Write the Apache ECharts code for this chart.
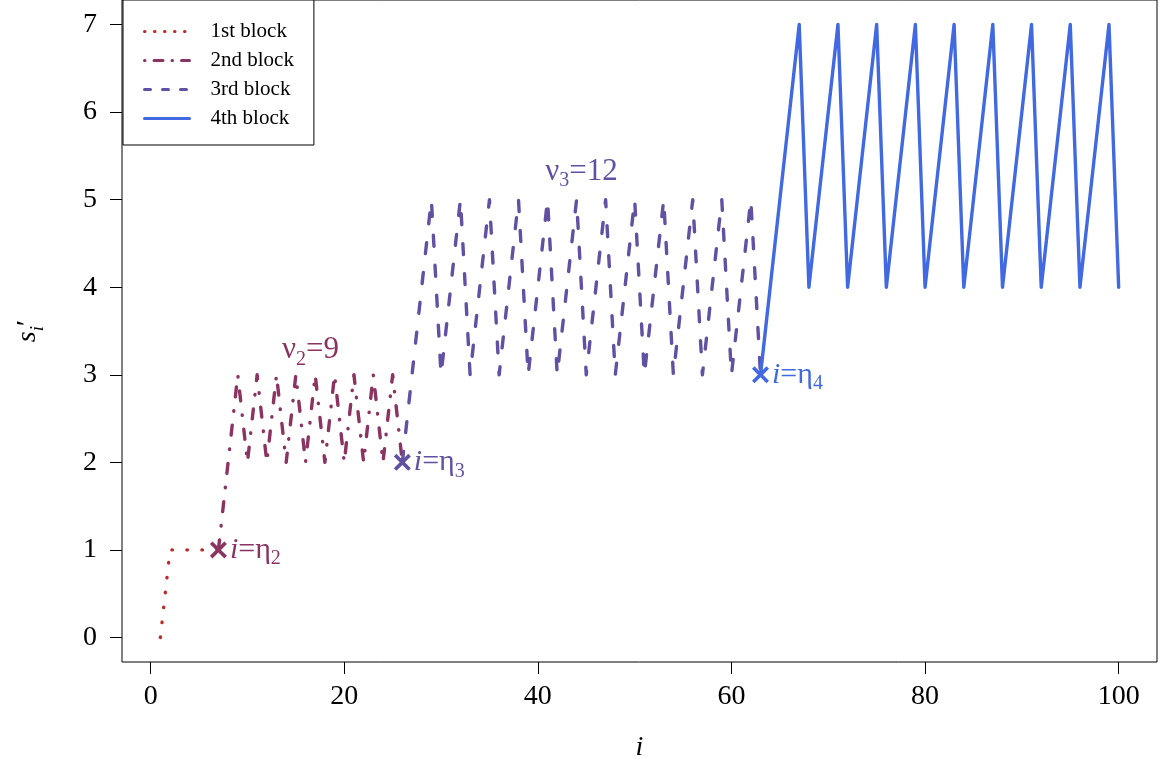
<!DOCTYPE html>
<html><head><meta charset="utf-8">
<script src="https://cdn.jsdelivr.net/npm/echarts@6/dist/echarts.min.js"></script>
<style>html,body{margin:0;padding:0;background:#fff}#c{width:1162px;height:762px}</style>
</head><body><div id="c"></div>
<script>
const FONT = 'Liberation Serif';
const seriesNames = ['1st block', '2nd block', '3rd block', '4th block'];
const block1X = [1, 2, 3, 4, 5, 6, 7];
const block1Y = [0, 1, 1, 1, 1, 1, 1];
const block2X = [7, 8, 9, 10, 11, 12, 13, 14, 15, 16, 17, 18, 19, 20, 21, 22, 23, 24, 25, 26];
const block2Y = [1, 2, 3, 2, 3, 2, 3, 2, 3, 2, 3, 2, 3, 2, 3, 2, 3, 2, 3, 2];
const block3X = [26, 27, 28, 29, 30, 31, 32, 33, 34, 35, 36, 37, 38, 39, 40, 41, 42, 43, 44, 45,
  46, 47, 48, 49, 50, 51, 52, 53, 54, 55, 56, 57, 58, 59, 60, 61, 62, 63];
const block3Y = [2, 3, 4, 5, 3, 4, 5, 3, 4, 5, 3, 4, 5, 3, 4, 5, 3, 4, 5, 3,
  4, 5, 3, 4, 5, 3, 4, 5, 3, 4, 5, 3, 4, 5, 3, 4, 5, 3];
const block4X = [63, 64, 65, 66, 67, 68, 69, 70, 71, 72, 73, 74, 75, 76, 77, 78, 79, 80, 81, 82,
  83, 84, 85, 86, 87, 88, 89, 90, 91, 92, 93, 94, 95, 96, 97, 98, 99, 100];
const block4Y = [3, 4, 5, 6, 7, 4, 5, 6, 7, 4, 5, 6, 7, 4, 5, 6, 7, 4, 5, 6,
  7, 4, 5, 6, 7, 4, 5, 6, 7, 4, 5, 6, 7, 4, 5, 6, 7, 4];
const etaX = [7, 26, 63];
const etaY = [1, 2, 3];
const etaSub = ['2', '3', '4'];
const nuX = [16.5, 44.5];
const nuY = [3.28, 5.32];
const nuSub = ['2', '3'];
const nuVal = ['9', '12'];
const xTicks = [0, 20, 40, 60, 80, 100];
const yTicks = [0, 1, 2, 3, 4, 5, 6, 7];

const colors = ['#bf2a2a', '#8b3462', '#6251a2', '#4169e1'];
const dashes = [[0.5, 14.5], [10, 14, 0.5, 14], [11, 19], 'solid'];
const legendDashes = [[0.5, 9.5], [0.5, 9, 9, 9], [6, 12], 'solid'];

const xs = [block1X, block2X, block3X, block4X];
const ys = [block1Y, block2Y, block3Y, block4Y];

const lineSeries = seriesNames.map((name, k) => ({
  type: 'line', name,
  data: xs[k].map((x, i) => [x, ys[k][i]]),
  showSymbol: false, symbol: 'none',
  lineStyle: { color: colors[k], width: 3.4, type: dashes[k], cap: 'round', join: 'round', opacity: 1 },
  itemStyle: { color: colors[k] },
  z: 2 + k, animation: false
}));

const XPATH = 'path://M0,1.5L1.5,0L5,3.5L8.5,0L10,1.5L6.5,5L10,8.5L8.5,10L5,6.5L1.5,10L0,8.5L3.5,5Z';
const subRich = (size) => ({
  it: { fontFamily: FONT, fontStyle: 'italic', fontSize: size, lineHeight: size, verticalAlign: 'top' },
  n: { fontFamily: FONT, fontSize: size, lineHeight: size, verticalAlign: 'top' },
  sub: { fontFamily: FONT, fontSize: Math.round(size * 0.66), lineHeight: Math.round(size * 0.66), padding: [Math.round(size * 0.48), 0, 0, 0], verticalAlign: 'top' }
});

const etaSeries = {
  type: 'scatter', name: 'eta', symbol: XPATH, symbolSize: 17, z: 10, animation: false,
  itemStyle: { opacity: 1 },
  data: etaX.map((x, i) => ({
    value: [x, etaY[i]],
    itemStyle: { color: colors[i + 1], opacity: 1 },
    label: { color: colors[i + 1], opacity: 1 },
    sub: etaSub[i]
  })),
  label: {
    show: true, position: 'right', distance: 3,
    formatter: p => '{it|i}{n|=η}{sub|' + p.data.sub + '}',
    rich: subRich(30)
  },
  emphasis: { disabled: true }
};

const nuSeries = {
  type: 'scatter', name: 'nu', symbolSize: 0, z: 10, animation: false, silent: true,
  itemStyle: { opacity: 1 },
  data: nuX.map((x, i) => ({
    value: [x, nuY[i]],
    label: { color: colors[i + 1], opacity: 1 },
    sub: nuSub[i], val: nuVal[i]
  })),
  label: {
    show: true, position: 'inside',
    formatter: p => '{n|ν}{sub|' + p.data.sub + '}{n|=' + p.data.val + '}',
    rich: subRich(31)
  }
};

const chart = echarts.init(document.getElementById('c'), null, { renderer: 'canvas' });
chart.setOption({
  animation: false,
  backgroundColor: '#fff',
  grid: { left: 122, right: 5, top: 0, bottom: 100, show: true, borderColor: '#000', borderWidth: 1, backgroundColor: 'transparent', outerBoundsMode: 'none', containLabel: false },
  xAxis: {
    type: 'value', min: -2.96, max: 103.96,
    axisLine: { show: false, onZero: false },
    axisTick: { show: true, inside: false, length: 12, customValues: xTicks, lineStyle: { color: '#000', width: 1 } },
    axisLabel: { customValues: xTicks, margin: 21, fontFamily: FONT, fontSize: 28, color: '#000' },
    splitLine: { show: false },
    name: '{it|i}', nameLocation: 'middle', nameGap: 72,
    nameTextStyle: { rich: { it: { fontFamily: FONT, fontStyle: 'italic', fontSize: 28, color: '#000' } } }
  },
  yAxis: {
    type: 'value', min: -0.28, max: 7.28,
    axisLine: { show: false, onZero: false },
    axisTick: { show: true, inside: false, length: 12, customValues: yTicks, lineStyle: { color: '#000', width: 1 } },
    axisLabel: { customValues: yTicks, margin: 25, fontFamily: FONT, fontSize: 28, color: '#000' },
    splitLine: { show: false },
    name: '{it|s}{sub|i}{p|′}', nameLocation: 'middle', nameGap: 80, nameRotate: 90,
    nameTextStyle: {
      color: '#000',
      rich: {
        it: { fontFamily: FONT, fontStyle: 'italic', fontSize: 28, lineHeight: 28, verticalAlign: 'top', color: '#000' },
        sub: { fontFamily: FONT, fontStyle: 'italic', fontSize: 19, lineHeight: 19, padding: [14, 0, 0, 0], verticalAlign: 'top', color: '#000' },
        p: { fontFamily: FONT, fontSize: 28, lineHeight: 28, verticalAlign: 'top', color: '#000' }
      }
    }
  },
  legend: {
    data: seriesNames.map((n, i) => ({
      name: n,
      lineStyle: { type: legendDashes[i], width: 3, cap: 'round' },
      itemStyle: { color: 'rgba(0,0,0,0)', borderWidth: 0, opacity: 0 }
    })),
    orient: 'vertical', left: 123, top: 0,
    itemWidth: 45, itemHeight: 14, itemGap: 8,
    borderColor: '#000', borderWidth: 1, backgroundColor: '#fff',
    padding: [21, 20, 16, 20],
    textStyle: { fontFamily: FONT, fontSize: 21, color: '#000', padding: [0, 0, 0, 16] },
    selectedMode: false
  },
  series: [...lineSeries, etaSeries, nuSeries]
});
</script>
</body></html>
